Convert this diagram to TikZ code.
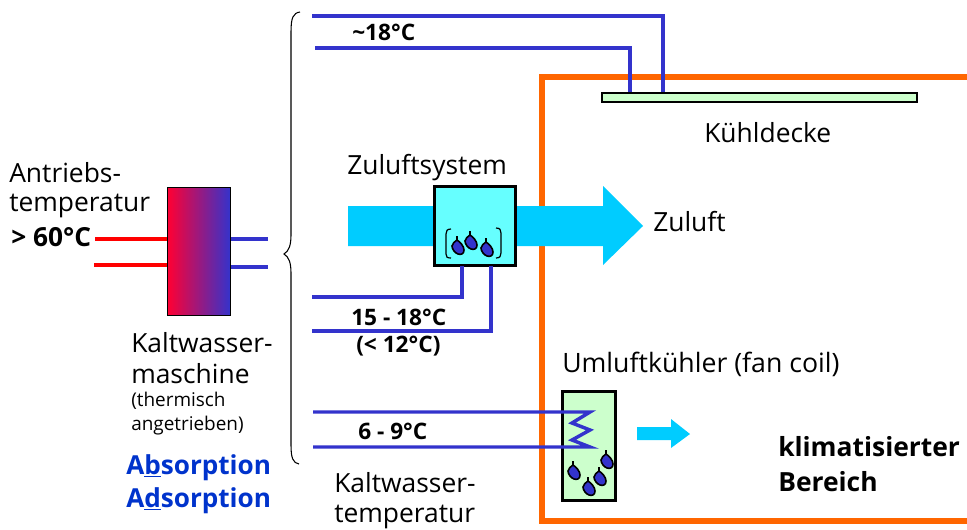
\documentclass[tikz,border=0pt]{standalone}
\usepackage{fontspec}
\setmainfont{Open Sans}
\usetikzlibrary{arrows.meta}
\definecolor{pipeblue}{HTML}{3333CC}
\definecolor{pipered}{HTML}{FF0000}
\definecolor{flow}{HTML}{00CCFF}
\definecolor{frameorange}{HTML}{FF6600}
\definecolor{palegreen}{HTML}{CCFFCC}
\definecolor{paleaqua}{HTML}{66FFFF}
\definecolor{titleblue}{HTML}{0033CC}
\definecolor{midmix}{HTML}{C82A80}
\definecolor{startred}{HTML}{FF0033}
\tikzset{
 x=0.75pt,y=-0.75pt,
 lbl/.style={anchor=base west,inner sep=0pt,font=\fontsize{19.8}{22}\selectfont},
 small/.style={anchor=base west,inner sep=0pt,font=\fontsize{14.2}{16}\selectfont},
 boldlbl/.style={anchor=base west,inner sep=0pt,font=\fontsize{17}{20}\selectfont\bfseries},
 big/.style={anchor=base west,inner sep=0pt,font=\fontsize{19.6}{24}\selectfont\bfseries},
 pipe/.style={draw=pipeblue,line width=2.6pt},
 hot/.style={draw=pipered,line width=2.6pt},
 box/.style={draw=black,line width=2.2pt,inner sep=0pt,anchor=north west},
 dropshape/.style={fill=pipeblue,draw=black,line width=1.2pt},
}
\newcommand{\waterdrop}[2]{%
 \draw[dropshape,shift={(#1,#2)}] (-1,-9) -- (-1,-5) .. controls (2,-3) and (6,1) .. (6,5)
   .. controls (6,9) and (3,10) .. (0,9) .. controls (-3,8) and (-6,4) .. (-6,1)
   .. controls (-6,-2) and (-3,-3) .. (-1,-5) -- cycle;}
\begin{document}
\begin{tikzpicture}
\useasboundingbox (0,0) rectangle (967,529);
% room
\draw[frameorange,line width=5pt] (967,77) -- (542,77) -- (542,521) -- (967,521);
% big flow arrow
\fill[flow] (348,206) -- (603,206) -- (603,186) -- (643,226) -- (603,265) -- (603,246) -- (348,246) -- cycle;
% small flow arrow
\fill[flow] (637,427) -- (671,427) -- (671,419) -- (690,434) -- (671,448) -- (671,440) -- (637,440) -- cycle;
% components
\node[box,fill=palegreen,minimum width=315*0.75pt,minimum height=9*0.75pt,line width=1.5pt] (decke) at (600.5,91.5) {};
\node[box,fill=paleaqua,minimum width=81*0.75pt,minimum height=79*0.75pt] (zuluft) at (433,185) {};
\node[box,fill=palegreen,minimum width=53*0.75pt,minimum height=109*0.75pt] (fan) at (561,390) {};
\node[anchor=north west,inner sep=0pt,draw=black,line width=0.9pt,minimum width=63*0.75pt,minimum height=128*0.75pt,left color=startred,middle color=midmix,right color=pipeblue] (km) at (167,187) {};
% free ends
\coordinate (a1) at (312,16);
\coordinate (a2) at (315,48);
\coordinate (b1) at (312,297);
\coordinate (b2) at (312,331);
\coordinate (c1) at (313,412);
\coordinate (c2) at (313,447);
\coordinate (r1) at (95,239);
\coordinate (r2) at (94,265);
\coordinate (k1) at (268,239);
\coordinate (k2) at (268,267);
% pipes
\draw[pipe] (a1) -- (663,16) -- (663,92);
\draw[pipe] (a2) -- (630,48) -- (630,92);
\draw[pipe] (b1) -- (462,297) -- (462,266);
\draw[pipe] (b2) -- (491,331) -- (491,266);
\draw[pipe] (c1) -- (590,412) -- (572,423) -- (590,430) -- (572,440) -- (590,447) -- (c2);
\draw[hot] (r1) -- (167,239);
\draw[hot] (r2) -- (167,265);
\draw[pipe] (231,239) -- (k1);
\draw[pipe] (231,267) -- (k2);
% brace
\draw[black,line width=0.8pt] (300,12) .. controls (293,13) and (291,18) .. (291,32)
  -- (291,235) .. controls (291,245) and (289,251) .. (284,254)
  .. controls (289,257) and (291,263) .. (291,273)
  -- (291,445) .. controls (291,458) and (293,463) .. (299,464);
% drops in supply unit
\waterdrop{458}{245}\waterdrop{471}{240}\waterdrop{487}{247}
\draw[black,line width=0.9pt] (451,229) .. controls (447,229) and (446,231) .. (446,234) -- (446,254) .. controls (446,257) and (447,258) .. (451,258);
\draw[black,line width=0.9pt] (496,228) .. controls (500,228) and (501,230) .. (501,233) -- (501,253) .. controls (501,256) and (500,258) .. (496,258);
% drops in fan coil
\waterdrop{574}{470}\waterdrop{589}{486}\waterdrop{600}{476}\waterdrop{607}{459}
% labels
\node[lbl] (t1) at (9,182) {Antriebs-};
\node[lbl] (t2) at (9,211) {temperatur};
\node[boldlbl,font=\fontsize{19.7}{24}\selectfont\bfseries] (t3) at (11,246) {> 60°C};
\node[lbl] (t4) at (131,352) {Kaltwasser-};
\node[lbl] (t5) at (131,383) {maschine};
\node[small] (t6) at (131,406) {(thermisch};
\node[small] (t7) at (131,430) {angetrieben)};
\node[big,text=titleblue] (t8) at (126,474) {A\underline{b}sorption};
\node[big,text=titleblue] (t9) at (126,507) {A\underline{d}sorption};
\node[boldlbl] (t10) at (352,40) {\textasciitilde18°C};
\node[lbl] (t11) at (704,142) {Kühldecke};
\node[lbl] (t12) at (347,174) {Zuluftsystem};
\node[lbl] (t13) at (653,231) {Zuluft};
\node[boldlbl] (t14) at (351,325) {15 - 18°C};
\node[boldlbl] (t15) at (356,352) {(< 12°C)};
\node[lbl,font=\fontsize{20}{22}\selectfont] (t16) at (562,372) {Umluftkühler (fan coil)};
\node[boldlbl] (t17) at (358,439) {6 - 9°C};
\node[lbl] (t18) at (334,492) {Kaltwasser-};
\node[lbl] (t19) at (334,522) {temperatur};
\node[anchor=base west,inner sep=0pt,font=\fontsize{19.8}{24}\selectfont\bfseries] (t20) at (778,456) {klimatisierter};
\node[anchor=base west,inner sep=0pt,font=\fontsize{19.8}{24}\selectfont\bfseries] (t21) at (778,491) {Bereich};
\end{tikzpicture}
\end{document}
